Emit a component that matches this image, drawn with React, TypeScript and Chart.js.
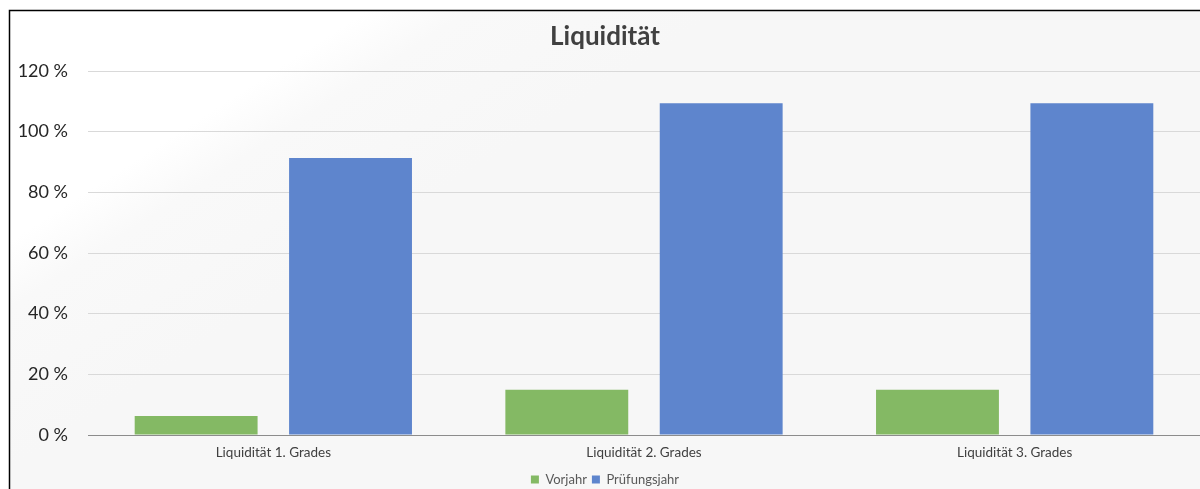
import React, { useEffect, useRef } from "react";
import { Chart, registerables } from "chart.js";

Chart.register(...registerables);

const categories = ["Liquidität 1. Grades", "Liquidität 2. Grades", "Liquidität 3. Grades"];
const vorjahr = [6.3, 14.9, 14.9];
const pruefungsjahr = [91.3, 109.4, 109.4];
const yMax = 120;
const yStep = 20;
const titleText = "Liquidität";
const seriesNames = ["Vorjahr", "Prüfungsjahr"];

const FONT = "Lato, 'Open Sans', sans-serif";

const bgPlugin = {
  id: "bgPlugin",
  beforeDraw(chart: any) {
    const { ctx, width, height } = chart;
    ctx.save();
    const g = ctx.createLinearGradient(0, 0, 217, 336);
    g.addColorStop(0, "#ffffff");
    g.addColorStop(0.52, "#ffffff");
    g.addColorStop(0.66, "#f9f9f9");
    g.addColorStop(1, "#f7f7f7");
    ctx.fillStyle = g;
    ctx.fillRect(0, 0, width, height);
    ctx.fillStyle = "#ffffff";
    ctx.fillRect(0, 0, width, 10);
    ctx.fillRect(0, 0, 9, height);
    ctx.strokeStyle = "#000000";
    ctx.lineWidth = 1.5;
    ctx.beginPath();
    ctx.moveTo(9.5, height);
    ctx.lineTo(9.5, 10.5);
    ctx.lineTo(width, 10.5);
    ctx.stroke();
    ctx.restore();
  },
};

export default function App() {
  const ref = useRef<HTMLCanvasElement | null>(null);
  useEffect(() => {
    if (!ref.current) return;
    const chart = new Chart(ref.current, {
      type: "bar",
      data: {
        labels: categories,
        datasets: [
          {
            label: seriesNames[0],
            data: vorjahr,
            backgroundColor: "#84b964",
            categoryPercentage: 0.833,
            barPercentage: 0.796,
          },
          {
            label: seriesNames[1],
            data: pruefungsjahr,
            backgroundColor: "#5e85cd",
            categoryPercentage: 0.833,
            barPercentage: 0.796,
          },
        ],
      },
      options: {
        animation: false,
        responsive: false,
        maintainAspectRatio: false,
        layout: { padding: { left: 10, top: 10, right: 0, bottom: -7 } },
        plugins: {
          title: {
            display: true,
            text: titleText,
            color: "#404040",
            font: { family: FONT, size: 26, weight: "bold" },
            padding: { top: 11.4, bottom: 18.4 },
          },
          legend: {
            display: true,
            position: "bottom",
            labels: {
              boxWidth: 8,
              boxHeight: 8,
              color: "#595959",
              font: { family: FONT, size: 13 },
              padding: 5,
            },
          },
          tooltip: { enabled: false },
        },
        scales: {
          x: {
            afterFit(scale: any) {
              scale.height = 33;
            },
            grid: { display: false, drawTicks: false },
            border: { display: true, color: "#8c8c8c", width: 1 },
            ticks: {
              color: "#404040",
              font: { family: FONT, size: 13.5 },
              padding: 10,
            },
          },
          y: {
            min: 0,
            max: yMax,
            afterFit(scale: any) {
              scale.width = 78;
            },
            ticks: {
              stepSize: yStep,
              color: "#262626",
              font: { family: FONT, size: 18 },
              padding: 20,
              callback: (v: any) => `${v} %`,
            },
            grid: {
              drawTicks: false,
              color: (c: any) => (c.tick && c.tick.value === 0 ? "#8c8c8c" : "#d9d9d9"),
              lineWidth: 1,
            },
            border: { display: false },
          },
        },
      },
      plugins: [bgPlugin],
    });
    return () => chart.destroy();
  }, []);
  return (
    <div style={{ position: "fixed", left: 0, top: 0, width: 1200, height: 489, overflow: "hidden" }}>
      <canvas ref={ref} width={1200} height={489} style={{ display: "block" }} />
    </div>
  );
}
